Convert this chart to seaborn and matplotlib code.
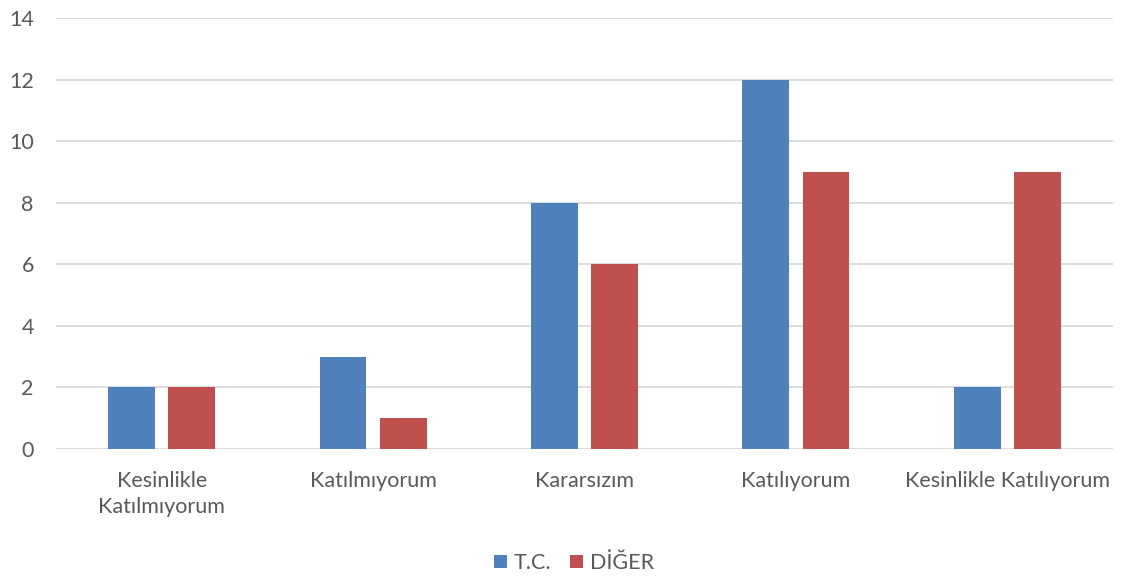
import matplotlib.pyplot as plt
import pandas as pd
import seaborn as sns

CATEGORIES = ["Kesinlikle\nKatılmıyorum", "Katılmıyorum", "Kararsızım",
              "Katılıyorum", "Kesinlikle Katılıyorum"]
TC = [2, 3, 8, 12, 2]
DIGER = [2, 1, 6, 9, 9]
SERIES = ["T.C.", "DİĞER"]
COLORS = ["#4F81BD", "#C0504D"]


def main():
    sns.set_theme(style="white")
    plt.rcParams["font.family"] = ["Lato", "DejaVu Sans"]

    df = pd.DataFrame({
        "Kategori": CATEGORIES * 2,
        "Değer": TC + DIGER,
        "Seri": [SERIES[0]] * len(TC) + [SERIES[1]] * len(DIGER),
    })

    fig = plt.figure(figsize=(11.21, 5.78), dpi=100)
    ax = fig.add_axes([56 / 1121, 1 - 449 / 578, 1057 / 1121, 431 / 578])

    sns.barplot(data=df, x="Kategori", y="Değer", hue="Seri",
                palette=COLORS, width=0.568, gap=0.22, saturation=1,
                linewidth=0, ax=ax, legend=True)

    ax.set_ylim(0, 14)
    ax.set_yticks(range(0, 15, 2))
    ax.set_xlim(-0.5, len(CATEGORIES) - 0.5)
    ax.set_xlabel("")
    ax.set_ylabel("")
    ax.grid(axis="y", color="#D9D9D9", linewidth=1.3)
    ax.set_axisbelow(True)
    for s in ax.spines.values():
        s.set_visible(False)
    ax.tick_params(axis="both", length=0, labelsize=15.5, labelcolor="#595959")
    ax.tick_params(axis="x", pad=16)
    ax.tick_params(axis="y", pad=16)
    for lab in ax.get_xticklabels():
        lab.set_linespacing(1.35)

    ax.legend_.remove()
    handles, labels = ax.get_legend_handles_labels()
    fig.legend(handles, labels, loc="center", bbox_to_anchor=(0.512, 1 - 563 / 578),
               ncol=2, frameon=False, fontsize=15.5, handlelength=0.6,
               handleheight=0.6, handletextpad=0.3, columnspacing=0.9,
               labelcolor="#595959")

    plt.savefig("out.png", dpi=100)


if __name__ == "__main__":
    main()
